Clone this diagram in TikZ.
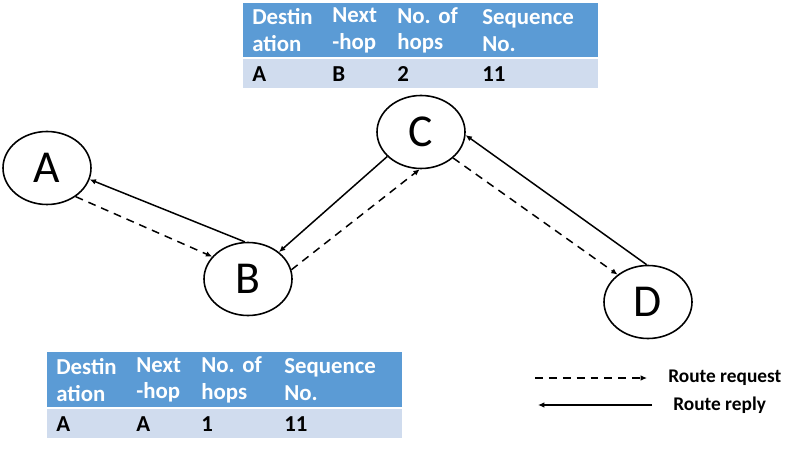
\documentclass[tikz,border=0pt]{standalone}
\usepackage{fontspec}
\setmainfont{Carlito}
\usetikzlibrary{arrows.meta}
\usetikzlibrary{shapes.geometric}
\definecolor{hdblue}{HTML}{5B9BD5}
\definecolor{rowblue}{HTML}{D0DCEE}
\frenchspacing
\tikzset{
  station/.style={draw,ellipse,line width=0.9pt,inner sep=0pt,
    minimum width=88*0.02cm,minimum height=73*0.02cm,
    font=\fontsize{26}{26}\selectfont},
  reply/.style={line width=0.85pt,-{Latex[length=3.6pt,width=3.2pt]}},
  request/.style={reply,dash pattern=on 4.5pt off 3.4pt},
  hdcell/.style={fill=hdblue,text=white,anchor=north west,align=left,
    inner xsep=9*0.02cm,inner ysep=0pt,
    font=\fontsize{13}{15.3}\selectfont\bfseries},
  rowcell/.style={hdcell,fill=rowblue,text=black},
  legendtext/.style={anchor=west,inner sep=0pt,font=\fontsize{11}{11}\selectfont\bfseries}
}
\begin{document}
\begin{tikzpicture}[x=0.02cm,y=-0.02cm]
        \useasboundingbox (0,0) rectangle (794,449);
        % routing table at C
        \foreach \x/\w/\h/\n [count=\i] in {243/80/{Destin\\ation}/A,323/65/{Next\\-hop}/B,388/85/{No. of\\hops}/2,473/125/{Sequence\\No.}/11}{
            \node[hdcell,minimum width=\w*0.02cm,minimum height=54*0.02cm,text width=\w*0.02cm-18*0.02cm] (topth\i) at (\x,3) {\h};
            \node[rowcell,minimum width=\w*0.02cm,minimum height=29*0.02cm,text width=\w*0.02cm-18*0.02cm] (toptd\i) at (\x,59) {\n};
        }
        % routing table at B
        \foreach \x/\w/\h/\n [count=\i] in {47/80/{Destin\\ation}/A,127/65/{Next\\-hop}/A,192/83/{No. of\\hops}/1,275/127/{Sequence\\No.}/11}{
            \node[hdcell,minimum width=\w*0.02cm,minimum height=55*0.02cm,text width=\w*0.02cm-18*0.02cm] (botth\i) at (\x,352) {\h};
            \node[rowcell,minimum width=\w*0.02cm,minimum height=29*0.02cm,text width=\w*0.02cm-18*0.02cm] (bottd\i) at (\x,409) {\n};
        }
        % stations
        \node[station] (A) at (47,168) {A};
        \node[station] (B) at (248,279) {B};
        \node[station] (C) at (421,132) {C};
        \node[station] (D) at (648,302) {D};
        % route request and reply
        \draw[reply] (B.95) -- (A.-15);
        \draw[request] (A.-45) -- (B.148);
        \draw[reply] (C.-144) -- (B.41);
        \draw[request] (B.12) -- (C.-92);
        \draw[reply] (D.92) -- (C.-4);
        \draw[request] (C.-39) -- (D.138);
        % legend
        \coordinate (rq1) at (535,378);
        \coordinate (rq2) at (647,378);
        \coordinate (rp1) at (652,405);
        \coordinate (rp2) at (538,405);
        \draw[request] (rq1) -- (rq2);
        \draw[reply] (rp1) -- (rp2);
        \node[legendtext] (rqtext) at (668,378) {Route request};
        \node[legendtext] (rptext) at (673,405) {Route reply};
    \end{tikzpicture}
\end{document}
